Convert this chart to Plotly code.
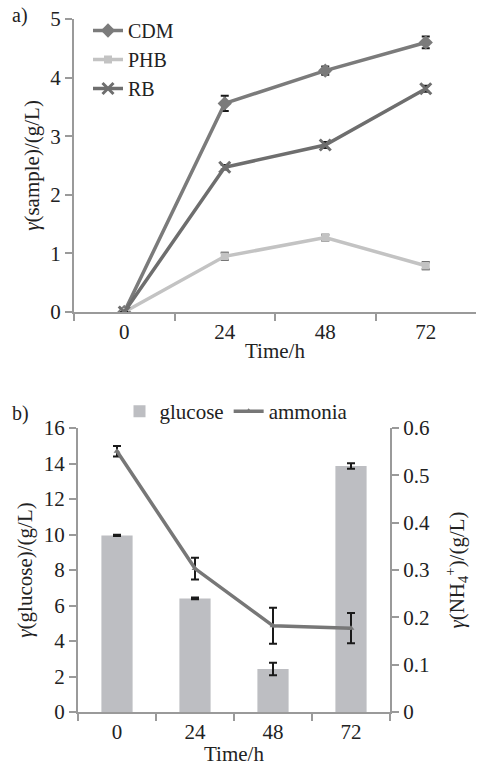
import plotly.graph_objects as go

# ---- data ----
time_labels = ["0", "24", "48", "72"]

cdm = [0, 3.56, 4.12, 4.60]
cdm_err = [0, 0.13, 0.07, 0.10]
phb = [0, 0.95, 1.27, 0.79]
phb_err = [0, 0.06, 0.05, 0.06]
rb = [0, 2.47, 2.85, 3.81]
rb_err = [0, 0.04, 0.05, 0.05]

glucose = [9.95, 6.40, 2.42, 13.86]
glucose_err = [0.03, 0.05, 0.35, 0.15]
ammonia = [0.551, 0.303, 0.182, 0.177]
ammonia_err = [0.011, 0.023, 0.038, 0.032]

nh4_ticks = [0, 0.1, 0.2, 0.3, 0.4, 0.5, 0.6]
nh4_ticktext = ["0", "0.1", "0.2", "0.3", "0.4", "0.5", "0.6"]

FONT = "Liberation Serif"
FS = 21
AX = "#9a9a9a"
TXT = "#222222"
ERR = dict(type="data", color="#1a1a1a", thickness=2, width=4)

fig = go.Figure()

# ---- panel a ----
fig.add_trace(go.Scatter(x=time_labels, y=cdm, name="CDM", mode="lines+markers",
                         line=dict(color="#7b7b7b", width=3.5),
                         marker=dict(symbol="diamond", size=11, color="#7b7b7b"),
                         error_y=dict(array=cdm_err, **ERR),
                         xaxis="x", yaxis="y", legend="legend"))
fig.add_trace(go.Scatter(x=time_labels, y=phb, name="PHB", mode="lines+markers",
                         line=dict(color="#c3c3c3", width=3.5),
                         marker=dict(symbol="square", size=8, color="#c3c3c3"),
                         error_y=dict(array=phb_err, **ERR),
                         xaxis="x", yaxis="y", legend="legend"))
fig.add_trace(go.Scatter(x=time_labels, y=rb, name="RB", mode="lines+markers",
                         line=dict(color="#6e6e6e", width=3.5),
                         marker=dict(symbol="x-thin", size=11, color="#6e6e6e",
                                     line=dict(width=3, color="#6e6e6e")),
                         error_y=dict(array=rb_err, **ERR),
                         xaxis="x", yaxis="y", legend="legend"))

# ---- panel b ----
fig.add_trace(go.Bar(x=time_labels, y=glucose, name="glucose",
                     marker=dict(color="#bdbec2", line=dict(width=0)),
                     error_y=dict(array=glucose_err, **ERR),
                     xaxis="x2", yaxis="y2", legend="legend2"))
fig.add_trace(go.Scatter(x=time_labels, y=ammonia, name="ammonia", mode="lines+markers",
                         line=dict(color="#777777", width=3.5),
                         marker=dict(symbol="triangle-up", size=6, color="#777777"),
                         error_y=dict(array=ammonia_err, **ERR),
                         xaxis="x2", yaxis="y3", legend="legend2"))

tfont = dict(family=FONT, size=FS, color=TXT)
axis_common = dict(showgrid=False, zeroline=False, showline=True, linecolor=AX,
                   linewidth=2, ticks="outside", tickcolor=AX, tickwidth=2, ticklen=7,
                   tickfont=tfont)

fig.update_layout(
    width=477, height=766,
    margin=dict(l=0, r=0, t=0, b=0, autoexpand=False),
    paper_bgcolor="white", plot_bgcolor="white",
    font=dict(family=FONT, size=FS, color=TXT),
    bargap=0.6,
    xaxis=dict(domain=[74/477, 476/477], anchor="y", type="category",
               range=[-0.5, 3.5], tickson="boundaries",
               title=dict(text="Time/h", font=tfont, standoff=0),
               **axis_common),
    yaxis=dict(domain=[1-312/766, 1-19/766], anchor="x", range=[0, 5], dtick=1,
               title=dict(text="<i>γ</i>(sample)/(g/L)", font=tfont, standoff=5),
               **axis_common),
    xaxis2=dict(domain=[78/477, 390/477], anchor="y2", type="category",
                range=[-0.5, 3.5], tickson="boundaries",
                title=dict(text="Time/h", font=tfont, standoff=6),
                **axis_common),
    yaxis2=dict(domain=[1-712/766, 1-428/766], anchor="x2", range=[0, 16], dtick=2,
                title=dict(text="<i>γ</i>(glucose)/(g/L)", font=tfont, standoff=5),
                **axis_common),
    yaxis3=dict(overlaying="y2", side="right", anchor="x2", range=[0, 0.6],
                tickvals=nh4_ticks, ticktext=nh4_ticktext,
                title=dict(text="<i>γ</i>(NH<sub>4</sub><sup>+</sup>)/(g/L)", font=tfont, standoff=20),
                **axis_common),
    legend=dict(x=88/477, y=1-11/766, xanchor="left", yanchor="top",
                bgcolor="rgba(0,0,0,0)", font=dict(family=FONT, size=20, color=TXT),
                tracegroupgap=0, itemwidth=30),
    legend2=dict(orientation="h", x=236/477, y=1-391/766, xanchor="center", yanchor="top",
                 bgcolor="rgba(0,0,0,0)", font=tfont),
    showlegend=True,
)

fig.add_annotation(text="a)", xref="paper", yref="paper", x=10/477, y=1-15/766,
                   xanchor="left", yanchor="middle", showarrow=False,
                   font=dict(family=FONT, size=20, color=TXT))
fig.add_annotation(text="b)", xref="paper", yref="paper", x=10/477, y=1-413/766,
                   xanchor="left", yanchor="middle", showarrow=False,
                   font=dict(family=FONT, size=20, color=TXT))
# arrow at 48 h
fig.add_annotation(x="48", y=0.405, xref="x2", yref="y3", text="", showarrow=True,
                   ax=0, ay=-40, arrowhead=2, arrowsize=1, arrowwidth=2.5, arrowcolor="#1a1a1a")

fig.write_html("out.html", config={"displayModeBar": False},
               post_script="document.body.style.margin='0';document.body.style.overflow='hidden';")
